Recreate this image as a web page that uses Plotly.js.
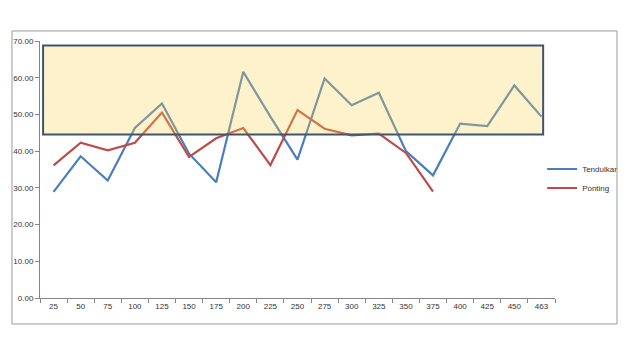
<!DOCTYPE html>
<html>
<head>
<meta charset="utf-8">
<script src="https://cdn.plot.ly/plotly-3.0.1.min.js"></script>
<style>html,body{margin:0;padding:0;background:#fff;}#chart{width:628px;height:355px;}</style>
</head>
<body>
<div id="chart"></div>
<script>
const categories = ["25","50","75","100","125","150","175","200","225","250","275","300","325","350","375","400","425","450","463"];
const tendulkar = [28.9,38.6,32.0,46.3,53.0,39.3,31.5,61.6,49.4,37.7,59.8,52.5,55.9,40.0,33.4,47.5,46.8,57.9,49.4];
const ponting = [36.1,42.3,40.2,42.3,50.5,38.4,43.5,46.3,36.2,51.2,46.1,44.3,44.8,39.5,29.0];
const yTicks = [0,10,20,30,40,50,60,70];
const band = [44.5, 68.8];

const font = "Liberation Sans Narrow, Liberation Sans, Arial, sans-serif";
const traces = [
  {x: categories, y: tendulkar, name: "Tendulkar", type: "scatter", mode: "lines",
   line: {color: "#4A7EBB", width: 2.2}},
  {x: categories.slice(0, ponting.length), y: ponting, name: "Ponting", type: "scatter", mode: "lines",
   line: {color: "#BE4B48", width: 2.2}}
];
const layout = {
  width: 628, height: 355,
  margin: {l: 40, r: 73, t: 41, b: 57, autoexpand: false},
  paper_bgcolor: "#fff", plot_bgcolor: "#fff",
  font: {family: font, size: 8, color: "#333333"},
  showlegend: true,
  legend: {x: 0.975, y: 0.465, xanchor: "left", yanchor: "middle", font: {size: 8, color: "#333333"},
           bgcolor: "rgba(0,0,0,0)", tracegroupgap: 0, itemwidth: 30},
  xaxis: {type: "category", range: [-0.5, 18.5], showgrid: false, showline: true, linecolor: "#868686", linewidth: 1,
          ticks: "outside", tickson: "boundaries", ticklen: 4, tickcolor: "#868686",
          tickfont: {size: 8, color: "#333333"}, zeroline: false, fixedrange: true, automargin: false},
  yaxis: {range: [0, 70], tickvals: yTicks, ticktext: yTicks.map(v => v.toFixed(2)),
          showgrid: false, showline: true, linecolor: "#868686", linewidth: 1,
          ticks: "outside", ticklen: 4, tickcolor: "#868686", tickfont: {size: 8, color: "#333333"},
          zeroline: false, fixedrange: true, automargin: false},
  shapes: [
    {type: "rect", xref: "paper", yref: "y", x0: 0.006, x1: 0.977, y0: band[0], y1: band[1],
     fillcolor: "rgba(248,212,85,0.3)", line: {color: "#3E5470", width: 2}, layer: "above"},
    {type: "rect", xref: "paper", yref: "paper", x0: -0.0544, x1: 1.1204, y0: -0.101, y1: 1.039,
     fillcolor: "rgba(0,0,0,0)", line: {color: "#9a9a9a", width: 1}, layer: "below"}
  ]
};
Plotly.newPlot("chart", traces, layout, {staticPlot: true, displayModeBar: false});
</script>
</body>
</html>
